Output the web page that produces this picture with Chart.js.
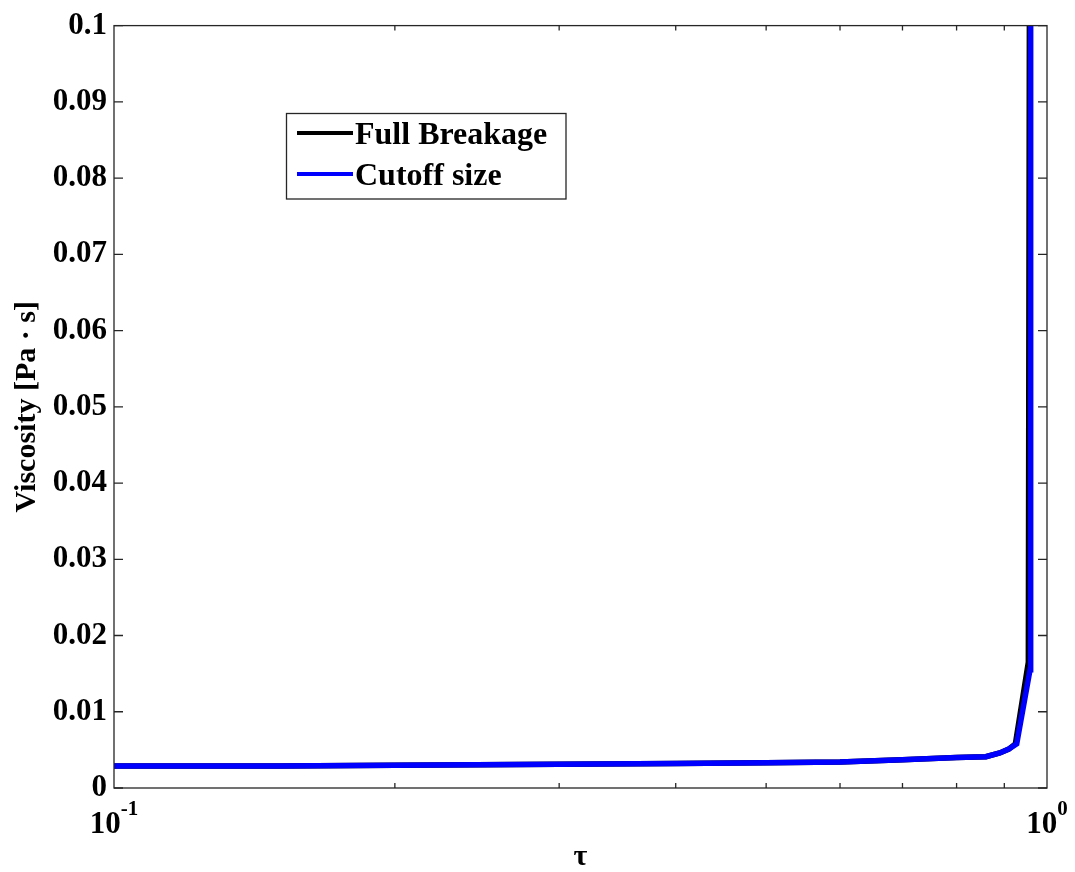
<!DOCTYPE html>
<html>
<head>
<meta charset="utf-8">
<script src="https://cdn.jsdelivr.net/npm/chart.js@4"></script>
<style>
  html, body { margin: 0; padding: 0; background: #fff; }
  canvas { display: block; }
</style>
</head>
<body>
<canvas id="viscChart" width="1075" height="872"></canvas>
<script>
// tau values and viscosity [Pa s] for both breakage models
const tauFull = [0.1, 0.15, 0.2, 0.3, 0.4, 0.5, 0.6, 0.7, 0.8, 0.86, 0.89, 0.91, 0.925, 0.955, 0.958];
const viscFull = [0.0029, 0.0029, 0.0030, 0.0031, 0.0032, 0.0033, 0.0034, 0.0037, 0.0040, 0.0041, 0.0046, 0.0051, 0.0058, 0.0165, 0.12];
const tauCutoff = [0.1, 0.15, 0.2, 0.3, 0.4, 0.5, 0.6, 0.7, 0.8, 0.86, 0.89, 0.91, 0.928, 0.959, 0.9605];
const viscCutoff = [0.0029, 0.0029, 0.0030, 0.0031, 0.0032, 0.0033, 0.0034, 0.0037, 0.0040, 0.0041, 0.0046, 0.0051, 0.0058, 0.0155, 0.12];

const seriesNames = ["Full Breakage", "Cutoff size"];
const seriesColors = ["#000000", "#0000ff"];
const xMajorTicks = [0.1, 1];
const xMinorTicks = [0.2, 0.3, 0.4, 0.5, 0.6, 0.7, 0.8, 0.9];
const xTickExponents = ["-1", "0"];

const serif = "'Liberation Serif', 'Times New Roman', serif";

function toPoints(xs, ys) {
  return xs.map((x, i) => ({ x: x, y: ys[i] }));
}

// box, inward ticks, power-of-ten labels and the legend
const framePlugin = {
  id: "frame",
  afterDraw(chart) {
    const ctx = chart.ctx;
    const area = chart.chartArea;
    const xs = chart.scales.x;
    const ys = chart.scales.y;
    ctx.save();

    ctx.strokeStyle = "#262626";
    ctx.lineWidth = 1.3;
    ctx.strokeRect(area.left, area.top, area.right - area.left, area.bottom - area.top);

    ctx.beginPath();
    xMinorTicks.forEach(v => {
      const px = xs.getPixelForValue(v);
      ctx.moveTo(px, area.bottom);
      ctx.lineTo(px, area.bottom - 5);
      ctx.moveTo(px, area.top);
      ctx.lineTo(px, area.top + 5);
    });
    ys.ticks.forEach(t => {
      const py = ys.getPixelForValue(t.value);
      ctx.moveTo(area.left, py);
      ctx.lineTo(area.left + 9, py);
      ctx.moveTo(area.right, py);
      ctx.lineTo(area.right - 9, py);
    });
    ctx.stroke();

    // x labels as 10 with a raised exponent
    ctx.fillStyle = "#000";
    ctx.textBaseline = "alphabetic";
    ctx.textAlign = "left";
    xMajorTicks.forEach((v, i) => {
      const px = xs.getPixelForValue(v);
      const exp = xTickExponents[i];
      ctx.font = "bold 31px " + serif;
      const wBase = ctx.measureText("10").width;
      ctx.font = "bold 21px " + serif;
      const wExp = ctx.measureText(exp).width;
      const x0 = px - (wBase + wExp) / 2;
      ctx.font = "bold 31px " + serif;
      ctx.fillText("10", x0, area.bottom + 45);
      ctx.font = "bold 21px " + serif;
      ctx.fillText(exp, x0 + wBase, area.bottom + 27);
    });

    // legend
    const lx = 286.5, ly = 113.5, lw = 279.5, lh = 85.5;
    ctx.fillStyle = "#fff";
    ctx.fillRect(lx, ly, lw, lh);
    ctx.strokeStyle = "#262626";
    ctx.lineWidth = 1.3;
    ctx.strokeRect(lx, ly, lw, lh);
    const rows = [133, 174];
    chart.data.datasets.forEach((ds, i) => {
      ctx.strokeStyle = ds.borderColor;
      ctx.lineWidth = 4;
      ctx.beginPath();
      ctx.moveTo(297, rows[i]);
      ctx.lineTo(353, rows[i]);
      ctx.stroke();
      ctx.fillStyle = "#000";
      ctx.font = "bold 32px " + serif;
      ctx.textBaseline = "middle";
      ctx.fillText(ds.label, 355, rows[i] + 3);
    });
    ctx.restore();
  }
};

new Chart(document.getElementById("viscChart"), {
  type: "line",
  data: {
    datasets: [
      {
        label: seriesNames[0],
        data: toPoints(tauFull, viscFull),
        borderColor: seriesColors[0],
        borderWidth: 5.5,
        pointRadius: 0,
        tension: 0,
        clip: 0,
        order: 2
      },
      {
        label: seriesNames[1],
        data: toPoints(tauCutoff, viscCutoff),
        borderColor: seriesColors[1],
        borderWidth: 5.5,
        pointRadius: 0,
        tension: 0,
        clip: 0,
        order: 1
      }
    ]
  },
  options: {
    responsive: false,
    devicePixelRatio: 1,
    animation: false,
    layout: { padding: { top: 23, right: 28, left: 0, bottom: 0 } },
    plugins: {
      legend: { display: false },
      tooltip: { enabled: false }
    },
    scales: {
      x: {
        type: "logarithmic",
        min: 0.1,
        max: 1,
        grid: { display: false, drawTicks: false },
        border: { display: false },
        ticks: { display: false },
        title: {
          display: true,
          text: "τ",
          color: "#000",
          font: { family: serif, size: 30, weight: "bold", lineHeight: 1 },
          padding: { top: 0, bottom: 0 }
        },
        afterFit(scale) { scale.height = 84; }
      },
      y: {
        min: 0,
        max: 0.1,
        grid: { display: false, drawTicks: false },
        border: { display: false },
        ticks: {
          stepSize: 0.01,
          padding: 7,
          color: "#000",
          font: { family: serif, size: 31, weight: "bold" },
          callback: v => String(+v.toFixed(2))
        },
        title: {
          display: true,
          text: "Viscosity [Pa · s]",
          color: "#000",
          font: { family: serif, size: 30, weight: "bold", lineHeight: 1.2 },
          padding: { top: 9, bottom: 0 }
        },
        afterFit(scale) { scale.width = 114; }
      }
    }
  },
  plugins: [framePlugin]
});
</script>
</body>
</html>
